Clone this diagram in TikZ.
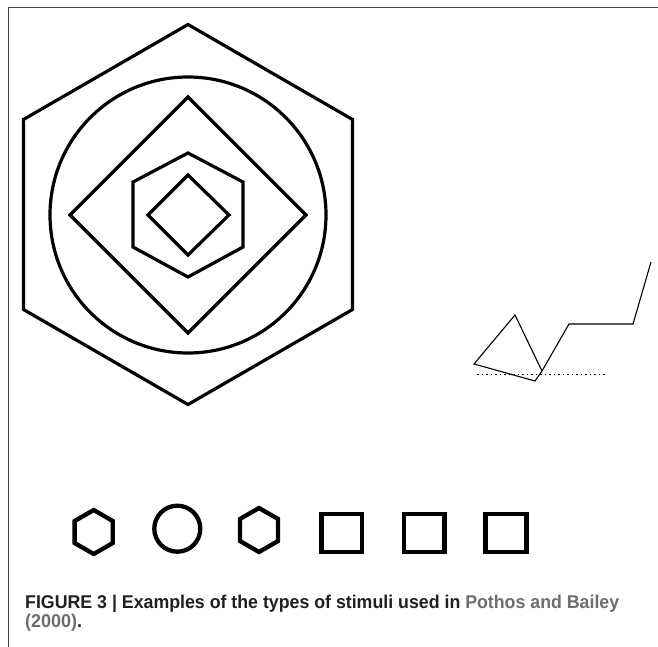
\documentclass[tikz,border=0pt]{standalone}
\usepackage{fontspec}
\setmainfont{Liberation Sans}
\usepackage{graphicx}
\definecolor{capdark}{HTML}{231F20}
\definecolor{capgray}{HTML}{6D6E71}
\definecolor{framec}{HTML}{444444}
\tikzset{
  bigline/.style={line width=3.2pt, line join=miter, black},
  smallshape/.style={line width=4.3pt, line join=miter, black},
  thinline/.style={line width=1.1pt, black, line join=miter},
  dotline/.style={line width=1pt, black, dash pattern=on 1.5pt off 3pt},
  framestyle/.style={line width=1.2pt, framec},
  captext/.style={anchor=base west, inner sep=0pt, font=\fontsize{18.5}{22}\selectfont\bfseries}
}
\begin{document}
\begin{tikzpicture}[x=1pt,y=-1pt]
\useasboundingbox (0,0) rectangle (658,647);
\fill[white] (0,0) rectangle (658,647);
% frame
\draw[framestyle] (8.5,647) -- (8.5,7.5) -- (658,7.5);
% big nested figure
\coordinate (bc) at (188,214.5);
\draw[bigline] (bc) +(90:190) -- +(150:190) -- +(210:190) -- +(270:190) -- +(330:190) -- +(30:190) -- cycle;
\draw[bigline] (188,215) circle (138);
\draw[bigline] (188,97) -- (306,215) -- (188,333) -- (70,215) -- cycle;
\draw[bigline] (188,153) -- (243,182) -- (243,247) -- (188,277) -- (133,247) -- (133,182) -- cycle;
\draw[bigline] (188,175) -- (229,215) -- (188,255) -- (148,215) -- cycle;
% right line figure
\coordinate (A) at (515,315);
\coordinate (B) at (474,364);
\coordinate (C) at (535,381);
\coordinate (D) at (542,371);
\coordinate (E) at (569,324);
\coordinate (F) at (633,324);
\coordinate (G) at (651,262);
\coordinate (L1) at (477,374.5);
\coordinate (L2) at (607,374.5);
\draw[thinline] (A) -- (B) -- (C) -- (D) -- cycle;
\draw[thinline] (D) -- (E) -- (F) -- (G);
\draw[dotline] (L1) -- (L2);
% bottom row
\coordinate (h1) at (93.7,532);
\draw[smallshape] (h1) +(90:22) -- +(150:22) -- +(210:22) -- +(270:22) -- +(330:22) -- +(30:22) -- cycle;
\draw[smallshape] (177.3,528.7) circle (23);
\coordinate (h2) at (259,530);
\draw[smallshape] (h2) +(90:22) -- +(150:22) -- +(210:22) -- +(270:22) -- +(330:22) -- +(30:22) -- cycle;
\draw[smallshape] (321.5,514) rectangle (362,552);
\draw[smallshape] (403.9,514) rectangle (444.5,552);
\draw[smallshape] (485.5,514) rectangle (526.5,552);
% caption
\node[captext] (cap1) at (25,608) {\resizebox{594pt}{\height}{\textcolor{capdark}{FIGURE 3 | Examples of the types of stimuli used in} \textcolor{capgray}{Pothos and Bailey}}};
\node[captext] (cap2) at (25,627.5) {\resizebox{57pt}{\height}{\textcolor{capgray}{(2000)}\textcolor{capdark}{.}}};
\end{tikzpicture}
\end{document}
